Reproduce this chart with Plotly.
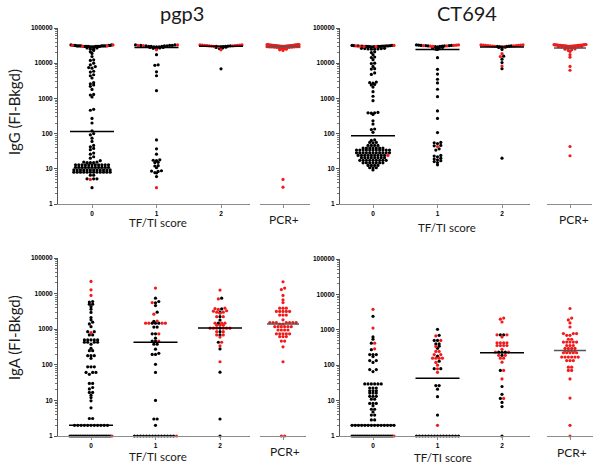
"""Dot-plot (swarm) panels of pgp3 / CT694 IgG and IgA by TF/TI score and PCR+."""

import numpy as np
import plotly.graph_objects as go

W, H = 600, 468
UNIT = 64.5  # px between group ticks
RED = "#f21b1b"
FONT = "Lato"
INK = "#1a1a1a"

# ---- data: values per group (TF/TI 0, 1, 2, PCR+), split by dot colour ----
PGP3_IGG_BLACK = [
    [33000, 33000, 32000, 32000, 32000, 32000, 31000, 31000, 31000, 31000, 31000, 31000, 31000,
     31000, 30000, 30000, 30000, 30000, 30000, 30000, 30000, 30000, 29000, 29000, 29000, 29000,
     27000, 27000, 25000, 25000, 23000, 21000, 19000, 15500, 12500, 12000, 10000, 9000, 8000,
     7500, 7200, 5900, 5600, 4700, 4400, 3800, 2800, 2600, 2400, 2200, 1800, 1300, 1250, 1100,
     490, 460, 270, 200, 120, 100, 92, 74, 60, 46, 42, 38, 35, 28, 26, 22, 20, 17,
     15.5, 15.5, 15, 15, 15, 13, 13, 13, 13, 13, 13, 13, 13, 13, 13, 13,
     11, 11, 11, 11, 11, 11, 11, 11, 11, 11, 11,
     9.3, 9.3, 9.3, 9.3, 9.3, 9.3, 9.3, 9.3, 9.3, 9.3, 9.3, 9.3,
     8, 8, 8, 8, 8, 8, 8, 8, 8, 8, 8, 8, 6.6, 6.6, 5.2, 5.2, 5.2, 2.9],
    [33000, 33000, 32000, 32000, 32000, 31000, 31000, 31000, 30000, 30000, 30000, 29000, 29000,
     29000, 28000, 28000, 27000, 26500, 26000, 17500, 9000, 8700, 5700, 4400, 1660, 66, 37, 26,
     18, 17.5, 17, 15.3, 15, 12.3, 12, 10.7, 8.8, 8.6, 8.4, 7.8, 7.6, 6],
    [31000, 30500, 30000, 30000, 29500, 29000, 28500, 28000, 27000, 26000, 6900],
    [],
]
PGP3_IGG_RED = [
    [33000, 32000, 31000, 30000, 5],
    [33000, 32000, 31500, 24000, 2.9],
    [33000, 33000, 32500, 32500, 32000, 32000, 31500, 31500, 31000, 31000, 30500, 30000, 29000,
     24000],
    [34000, 34000, 33500, 33500, 33000, 33000, 33000, 32500, 32500, 32500, 32000, 32000, 32000,
     32000, 31500, 31500, 31500, 31500, 31000, 31000, 31000, 31000, 30500, 30500, 30500, 30500,
     30000, 30000, 30000, 30000, 29500, 29500, 29500, 29000, 29000, 29000, 28500, 28500, 28000,
     28000, 27500, 27000, 26500, 26000, 25000, 24000, 23000, 5, 3],
]
PGP3_IGG_MEDIAN = [115, 28000, 30500, 30000]

CT694_IGG_BLACK = [
    [32000, 32000, 31500, 31500, 31000, 31000, 31000, 30500, 30500, 30500, 30000, 30000, 30000,
     30000, 29500, 29500, 29000, 26500, 26500, 26000, 26000, 25500, 25500, 25000, 25000,
     21000, 20000, 17500, 15000, 14500, 12600, 10000, 9800, 8100, 7000, 6800, 5300, 4800,
     2900, 2800, 2700, 2500, 2400, 2100, 1550, 1150, 860, 400, 390, 390, 380, 350, 230, 186,
     135, 130, 109, 66, 64, 56, 56, 55, 46, 46, 46, 46, 39, 39, 39, 39, 39, 39, 39,
     34, 34, 34, 34, 34, 34, 34, 34, 34, 34, 34,
     28.5, 28.5, 28.5, 28.5, 28.5, 28.5, 28.5, 28.5, 28.5, 28.5, 28.5,
     24, 24, 24, 24, 24, 24, 24, 24, 24, 20.6, 20.6, 20.6, 20.6, 20.6, 20.6, 20.6, 20.6,
     17.4, 17.4, 17.4, 17.4, 17.4, 17.4, 17.4, 17.4, 17.4, 14.8, 14.8, 14.8, 14.8, 14.8, 14.8,
     14.8, 12.5, 12.5, 12.5, 12.5, 10.7, 10.7, 10.7, 9.3],
    [33000, 32500, 32000, 32000, 31500, 31500, 31000, 31000, 30500, 30000, 29500, 29000, 28000,
     27000, 26000, 25000, 24500, 14400, 6700, 4900, 3500, 2750, 1820, 1120, 440, 270, 107,
     56, 55, 52, 46, 45, 37, 34, 24, 23, 22, 20, 19, 18, 17, 16, 15, 13],
    [31000, 30500, 30000, 30000, 29500, 29000, 28500, 28000, 27000, 24500, 15800, 13000, 10400,
     7000, 20],
    [],
]
CT694_IGG_RED = [
    [32000, 31000, 30500, 30000, 29500, 24],
    [33000, 32500, 32000, 31500, 31000, 30500, 30000, 43],
    [33000, 33000, 32500, 32500, 32000, 32000, 31500, 31500, 31000, 31000, 30500, 30000, 29500,
     18600, 15500, 8300],
    [34000, 33500, 33500, 33000, 33000, 33000, 32500, 32500, 32500, 32000, 32000, 32000, 32000,
     31500, 31500, 31500, 31000, 31000, 31000, 31000, 30500, 30500, 30500, 30000, 30000, 30000,
     29500, 29500, 29000, 29000, 27500, 27500, 27000, 26500, 25500, 25000, 24000, 23000, 21500,
     17500, 14800, 8100, 6300, 43, 23.5],
]
CT694_IGG_MEDIAN = [87, 24600, 29000, 27000]

PGP3_IGA_BLACK = [
    [6000, 5800, 5050, 5050, 4300, 3650, 2950, 2130, 1830, 1580, 1410, 1180, 850, 850, 690, 690,
     500, 500, 500, 500, 500, 430, 430, 430, 430, 380, 290, 250, 250, 180, 180, 180, 152,
     88, 88, 88, 61, 61, 61, 54, 30, 30, 23, 21, 16.7, 16.7, 14, 12, 9.7, 6.2, 3.1, 3.1,
     2, 2, 2, 2, 2, 2, 2, 2, 2, 2, 2,
     1, 1, 1, 1, 1, 1, 1, 1, 1, 1, 1, 1, 1, 1, 1, 1, 1, 1, 1, 1, 1, 1, 1, 1],
    [7450, 6000, 5500, 4600, 3000, 1650, 1480, 1480, 1480, 1150, 1150, 740, 740, 560, 465, 465,
     380, 380, 275, 210, 195, 195, 103, 61, 10, 3, 3, 2,
     1, 1, 1, 1, 1, 1, 1, 1, 1, 1, 1, 1, 1, 1],
    [7450, 3700, 3000, 2250, 1800, 1480, 1070, 850, 690, 430, 280, 62, 3, 1],
    [],
]
PGP3_IGA_RED = [
    [22000, 12800, 8900, 800, 1],
    [14300, 5600, 2650, 1700, 1480, 1480, 1480, 1480, 740, 465, 1],
    [12600, 7100, 3900, 3800, 3600, 3300, 3200, 3000, 3000, 2800, 2250, 2250, 1480, 1480, 1480,
     1300, 1300, 1300, 1070, 1070, 1070, 1070, 1070, 1070, 850, 850, 690, 690, 600, 430, 340,
     122],
    [21500, 14300, 13000, 8900, 6700, 5600, 3900, 3900, 3900, 3150, 3150, 3150, 3150, 3150,
     2500, 2500, 2500, 1830, 1530, 1530, 1530, 1530, 1530, 1530, 1530, 1400, 1400,
     1180, 1180, 1180, 1180, 1180, 1180, 950, 950, 950, 950, 740, 740, 740, 740, 740,
     620, 620, 620, 465, 465, 320, 122, 1, 1],
]
PGP3_IGA_MEDIAN = [2, 430, 1080, 1400]

CT694_IGA_BLACK = [
    [2400, 630, 540, 420, 275, 200, 200, 200, 175, 135, 135, 120, 75, 75, 66,
     29.5, 29.5, 29.5, 29.5, 29.5, 29.5, 22.7, 22.7, 22.7, 19, 19, 19, 16.3, 16.3, 16.3,
     13.2, 13.2, 13.2, 11, 11, 8.3, 8.3, 8.3, 7.1, 5.7, 5.7, 4.8, 3.9, 3.9, 2.85, 2.85,
     2, 2, 2, 2, 2, 2, 2, 2, 2, 2, 2, 2, 2, 2,
     1, 1, 1, 1, 1, 1, 1, 1, 1, 1, 1, 1, 1, 1, 1, 1, 1, 1, 1, 1, 1, 1, 1, 1],
    [1030, 700, 500, 500, 400, 400, 345, 300, 180, 130, 80, 80, 26.5, 26.5, 21, 12.9, 3.9,
     1, 1, 1, 1, 1, 1, 1, 1, 1, 1, 1, 1, 1, 1, 1],
    [720, 720, 235, 235, 235, 190, 71, 25, 15, 11.5, 8.9, 6.8, 1],
    [],
]
CT694_IGA_RED = [
    [3800, 1120, 420, 290, 1],
    [670, 500, 340, 245, 245, 200, 200, 158, 158, 158, 158, 120, 100, 79, 63, 2],
    [2150, 2000, 1660, 720, 720, 630, 430, 430, 430, 430, 360, 360, 360, 360, 280, 235, 235,
     190, 190, 158, 158, 122, 71, 41, 11.5],
    [4000, 2150, 1900, 1560, 1200, 780, 780, 780, 700, 700, 540, 540, 450, 450, 450, 450, 450,
     360, 360, 360, 300, 300, 300, 300, 260, 260, 260, 260, 225, 225, 225, 225, 225,
     170, 170, 170, 170, 170, 170, 135, 135, 135, 88, 88, 71, 71, 41, 11.8, 2, 1],
]
CT694_IGA_MEDIAN = [2, 43, 225, 260]

GROUP_LABELS = ["0", "1", "2"]
Y_TICKS = [1, 10, 100, 1000, 10000, 100000]

# panel boxes in page pixels: main axis span, PCR+ axis span, tick of group 0 / PCR+,
# y top/bottom, and where the "TF/TI score" and "PCR+" labels sit
PANELS = [
    dict(black=PGP3_IGG_BLACK, red=PGP3_IGG_RED, median=PGP3_IGG_MEDIAN,
         main=(58, 250), pcr=(260, 310), ticks=(92, 283), rows=(28, 204),
         xtitle=(158, 222), pcrlabel=(284, 219)),
    dict(black=CT694_IGG_BLACK, red=CT694_IGG_RED, median=CT694_IGG_MEDIAN,
         main=(340, 530), pcr=(547, 592), ticks=(373, 570), rows=(28, 204),
         xtitle=(447, 227), pcrlabel=(574, 219)),
    dict(black=PGP3_IGA_BLACK, red=PGP3_IGA_RED, median=PGP3_IGA_MEDIAN,
         main=(58, 250), pcr=(260, 306), ticks=(91, 283), rows=(258, 436),
         xtitle=(158, 456), pcrlabel=(285, 451)),
    dict(black=CT694_IGA_BLACK, red=CT694_IGA_RED, median=CT694_IGA_MEDIAN,
         main=(340, 530), pcr=(547, 593), ticks=(373, 570), rows=(259, 436),
         xtitle=(443, 457), pcrlabel=(572, 452)),
]


def ax(prefix, n):
    return prefix if n == 1 else f"{prefix}{n}"


def swarm_offsets(values, px_per_dec, max_width, row_gap=2.0, spacing=3.3):
    """GraphPad-like rows: near-equal values side by side, lowest in the middle."""
    logs = np.log10(np.asarray(values, dtype=float)) * px_per_dec
    order = np.argsort(-logs, kind="stable")
    offsets = np.zeros(len(logs))
    i = 0
    while i < len(order):
        top = logs[order[i]]
        j = i
        while j < len(order) and top - logs[order[j]] < row_gap:
            j += 1
        row = order[i:j]
        n = len(row)
        step = min(spacing, max_width / (n - 1)) if n > 1 else 0.0
        slots = (np.arange(n) - (n - 1) / 2) * step
        slots = slots[np.argsort(np.abs(slots), kind="stable")]
        offsets[row[np.argsort(logs[row], kind="stable")]] = slots
        i = j
    return offsets


fig = go.Figure()
layout = {}
labels = [
    ("pgp3", 182, 13, 20, 0),
    ("CT694", 467, 13, 20, 0),
    ("IgG (FI-Bkgd)", 14, 112, 15, -90),
    ("IgA (FI-Bkgd)", 14, 338, 15, -90),
]

for p, panel in enumerate(PANELS):
    xm, xp, yn = 2 * p + 1, 2 * p + 2, p + 1
    top, bottom = panel["rows"]
    px_per_dec = (bottom - top) / 5
    t0, tp = panel["ticks"]

    for g in range(4):
        black, red = panel["black"][g], panel["red"][g]
        values = list(black) + list(red)
        is_pcr = g == 3
        offsets = swarm_offsets(values, px_per_dec, 32 if is_pcr else 42)
        centre = 0 if is_pcr else g
        xs = centre + offsets / UNIT
        xaxis = ax("x", xp if is_pcr else xm)
        nb = len(black)
        for sl, colour in ((slice(0, nb), "black"), (slice(nb, None), RED)):
            if len(values[sl]) == 0:
                continue
            fig.add_trace(go.Scatter(
                x=xs[sl], y=values[sl], mode="markers", xaxis=xaxis, yaxis=ax("y", yn),
                marker=dict(size=3.2, color=colour, line=dict(width=0)),
                cliponaxis=False, hoverinfo="skip",
            ))
        half = (16 if is_pcr else 22) / UNIT
        med = panel["median"][g]
        fig.add_trace(go.Scatter(
            x=[centre - half, centre + half], y=[med, med], mode="lines",
            xaxis=xaxis, yaxis=ax("y", yn), cliponaxis=False, hoverinfo="skip",
            line=dict(color="#555555" if is_pcr else "black", width=1.5),
        ))

    ydom = [1 - bottom / H, 1 - top / H]
    base_x = dict(
        showline=True, linecolor="#8c8c8c", linewidth=1, ticks="outside", ticklen=3,
        tickcolor="#8c8c8c", showgrid=False, zeroline=False, anchor=ax("y", yn),
        automargin=False,
    )
    layout[ax("xaxis", xm)] = dict(
        base_x,
        domain=[panel["main"][0] / W, panel["main"][1] / W],
        range=[(panel["main"][0] - t0) / UNIT, (panel["main"][1] - t0) / UNIT],
        tickvals=[0, 1, 2], ticktext=GROUP_LABELS,
        tickfont=dict(family="Liberation Sans", size=6.5, color="#000000", weight="bold"),
    )
    layout[ax("xaxis", xp)] = dict(
        base_x,
        domain=[panel["pcr"][0] / W, panel["pcr"][1] / W],
        range=[(panel["pcr"][0] - tp) / UNIT, (panel["pcr"][1] - tp) / UNIT],
        tickvals=[0], ticktext=[""],
    )
    layout[ax("yaxis", yn)] = dict(
        type="log", range=[0, 5], domain=ydom, anchor=ax("x", xm), automargin=False,
        showline=True, linecolor="#555555", linewidth=1, ticks="outside", ticklen=3,
        tickcolor="#555555", showgrid=False, zeroline=False,
        tickvals=Y_TICKS, ticktext=[str(v) for v in Y_TICKS],
        tickfont=dict(family="Liberation Sans", size=6.5, color="#000000", weight="bold"),
        minor=dict(ticks="outside", ticklen=2, tickcolor="#777777",
                   tickvals=[m * 10 ** e for e in range(5) for m in range(2, 10)]),
    )
    labels.append(("TF/TI score", *panel["xtitle"], 11.5, 0))
    labels.append(("PCR+", *panel["pcrlabel"], 12, 0))

fig.update_layout(
    template="none",
    width=W, height=H, margin=dict(l=0, r=0, t=0, b=0, autoexpand=False),
    paper_bgcolor="white", plot_bgcolor="white", showlegend=False,
    font=dict(family=FONT, color=INK),
    **layout,
)

for text, x, y, size, angle in labels:
    fig.add_annotation(
        text=text, x=x / W, y=1 - y / H, xref="paper", yref="paper", showarrow=False,
        textangle=angle, font=dict(family=FONT, size=size, color=INK),
        xanchor="center", yanchor="middle",
    )

# the page's default 8px body margin would push the fixed-size figure off the window
fig.write_html(
    "out.html",
    config={"displayModeBar": False},
    post_script="document.body.style.margin = '0';",
)
